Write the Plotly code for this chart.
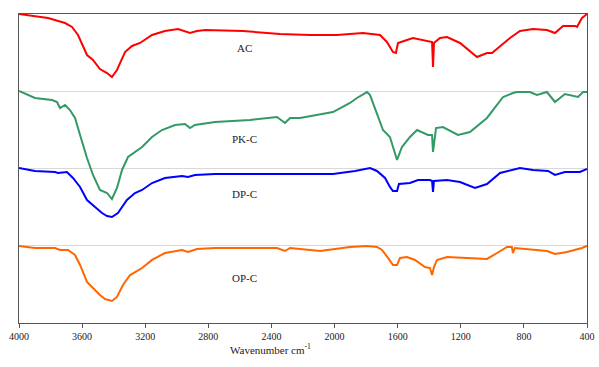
import plotly.graph_objects as go

# ---- data (wavenumber cm-1, stacked transmittance units) ----
ac_wn = [4000, 3816, 3708, 3664, 3626, 3569, 3531, 3487, 3442, 3411, 3379, 3328, 3284, 3233, 3157, 3075, 2992, 2916, 2872, 2821,
         2580, 2346, 2156, 1985, 1820, 1712, 1668, 1630, 1611, 1598, 1541, 1503, 1382, 1376, 1370, 1332, 1287, 1205, 1097, 1034,
         1002, 888, 825, 742, 654, 603, 552, 476, 463, 432, 400]
ac_val = [4.00, 3.948, 3.883, 3.832, 3.728, 3.469, 3.405, 3.288, 3.236, 3.184, 3.275, 3.508, 3.586, 3.625, 3.728, 3.780, 3.806, 3.754, 3.780, 3.793,
          3.780, 3.741, 3.728, 3.728, 3.754, 3.728, 3.638, 3.508, 3.495, 3.625, 3.663, 3.689, 3.638, 3.314, 3.625, 3.689, 3.702, 3.625, 3.443, 3.495,
          3.495, 3.689, 3.780, 3.806, 3.793, 3.754, 3.845, 3.845, 3.832, 3.948, 4.00]

pk_wn = [4000, 3899, 3791, 3759, 3740, 3708, 3677, 3645, 3613, 3569, 3531, 3487, 3442, 3411, 3379, 3347, 3309, 3220, 3157, 3094,
         3011, 2948, 2916, 2885, 2758, 2536, 2365, 2314, 2282, 2219, 2010, 1902, 1858, 1794, 1775, 1693, 1649, 1604, 1573, 1522,
         1477, 1446, 1408, 1382, 1376, 1357, 1313, 1218, 1142, 1034, 932, 869, 844, 762, 717, 654, 603, 540, 457, 425, 400]
pk_val = [3.003, 2.913, 2.887, 2.861, 2.783, 2.822, 2.757, 2.654, 2.434, 2.136, 1.916, 1.722, 1.683, 1.605, 1.748, 1.981, 2.149, 2.278, 2.408, 2.498,
          2.563, 2.576, 2.524, 2.563, 2.602, 2.628, 2.667, 2.589, 2.654, 2.654, 2.731, 2.848, 2.913, 2.990, 2.951, 2.498, 2.408, 2.110, 2.278, 2.408,
          2.498, 2.473, 2.434, 2.434, 2.214, 2.524, 2.537, 2.434, 2.473, 2.654, 2.926, 2.977, 2.990, 2.990, 2.951, 2.990, 2.861, 2.964, 2.926, 2.990, 2.990]

dp_wn = [4000, 3899, 3772, 3753, 3696, 3658, 3613, 3569, 3518, 3474, 3442, 3411, 3373, 3316, 3265, 3220, 3157, 3075, 2967, 2929,
         2885, 2758, 2219, 2010, 1870, 1775, 1731, 1680, 1649, 1630, 1604, 1592, 1522, 1471, 1395, 1382, 1376, 1370, 1287, 1205,
         1110, 1034, 951, 901, 825, 742, 647, 603, 540, 445, 400]
dp_val = [2.006, 1.968, 1.955, 1.942, 1.955, 1.877, 1.761, 1.592, 1.502, 1.424, 1.385, 1.372, 1.424, 1.592, 1.683, 1.722, 1.812, 1.877, 1.903, 1.890,
          1.916, 1.929, 1.929, 1.929, 1.968, 2.006, 1.968, 1.877, 1.761, 1.709, 1.709, 1.799, 1.812, 1.851, 1.851, 1.838, 1.696, 1.838, 1.851, 1.825,
          1.748, 1.799, 1.942, 1.968, 2.006, 1.981, 1.968, 1.916, 1.955, 1.955, 1.994]

op_wn = [4000, 3899, 3772, 3740, 3690, 3645, 3613, 3569, 3531, 3487, 3455, 3411, 3379, 3341, 3296, 3220, 3157, 3075, 2967, 2929,
         2872, 2758, 2365, 2314, 2282, 2092, 1902, 1794, 1731, 1699, 1661, 1630, 1604, 1585, 1541, 1490, 1427, 1395, 1382, 1370,
         1351, 1287, 1161, 1034, 970, 907, 876, 869, 857, 742, 654, 603, 527, 432, 400]
op_val = [0.997, 0.971, 0.971, 0.945, 0.945, 0.880, 0.751, 0.531, 0.453, 0.362, 0.311, 0.285, 0.337, 0.492, 0.621, 0.712, 0.816, 0.906, 0.945, 0.919,
          0.958, 0.971, 0.971, 0.932, 0.971, 0.932, 0.984, 0.997, 0.984, 0.945, 0.842, 0.751, 0.751, 0.842, 0.854, 0.816, 0.725, 0.712, 0.621, 0.725,
          0.816, 0.854, 0.842, 0.829, 0.906, 0.984, 0.984, 0.906, 0.971, 0.945, 0.932, 0.893, 0.919, 0.971, 0.997]

series_names = ["AC", "PK-C", "DP-C", "OP-C"]
series_colors = ["#FF0000", "#339966", "#0000FF", "#FF6600"]
label_wn = 2568
label_val = [3.56, 2.38, 1.67, 0.58]
x_ticks = [4000, 3600, 3200, 2800, 2400, 2000, 1600, 1200, 800, 400]

fig = go.Figure()
for wn, val, name, col in zip([ac_wn, pk_wn, dp_wn, op_wn], [ac_val, pk_val, dp_val, op_val], series_names, series_colors):
    fig.add_trace(go.Scatter(x=wn, y=val, mode="lines", name=name,
                             line=dict(color=col, width=2), showlegend=False))

for name, v in zip(series_names, label_val):
    fig.add_annotation(x=label_wn, y=v, text=name, showarrow=False,
                       font=dict(family="Liberation Serif", size=11, color="#222"))

fig.add_annotation(x=0.442, y=-0.085, xref="paper", yref="paper", yanchor="middle",
                   text="Wavenumber cm<sup>-1</sup>", showarrow=False,
                   font=dict(family="Liberation Serif", size=11, color="#222"))

fig.update_layout(
    width=599, height=367,
    margin=dict(l=19, r=12, t=14, b=44, autoexpand=False),
    paper_bgcolor="white", plot_bgcolor="white",
    font=dict(family="Liberation Serif", size=10, color="#222"),
)
fig.update_xaxes(range=[4000, 400], tickvals=x_ticks, ticktext=[str(t) for t in x_ticks],
                 automargin=False,
                 showgrid=False, zeroline=False, showline=True, linecolor="#555", linewidth=1.2,
                 mirror=True, ticks="outside", ticklen=4, tickcolor="#555",
                 tickfont=dict(family="Liberation Serif", size=10, color="#222"))
fig.update_yaxes(range=[0, 4], tickvals=[0, 1, 2, 3, 4], showticklabels=False, automargin=False,
                 showgrid=True, gridcolor="#d9d9d9", gridwidth=1, zeroline=False,
                 showline=True, linecolor="#555", linewidth=1.2, mirror=True, ticks="")

fig.write_html("out.html", config={"displayModeBar": False},
               post_script="document.body.style.margin='0';document.body.style.overflow='hidden';")
